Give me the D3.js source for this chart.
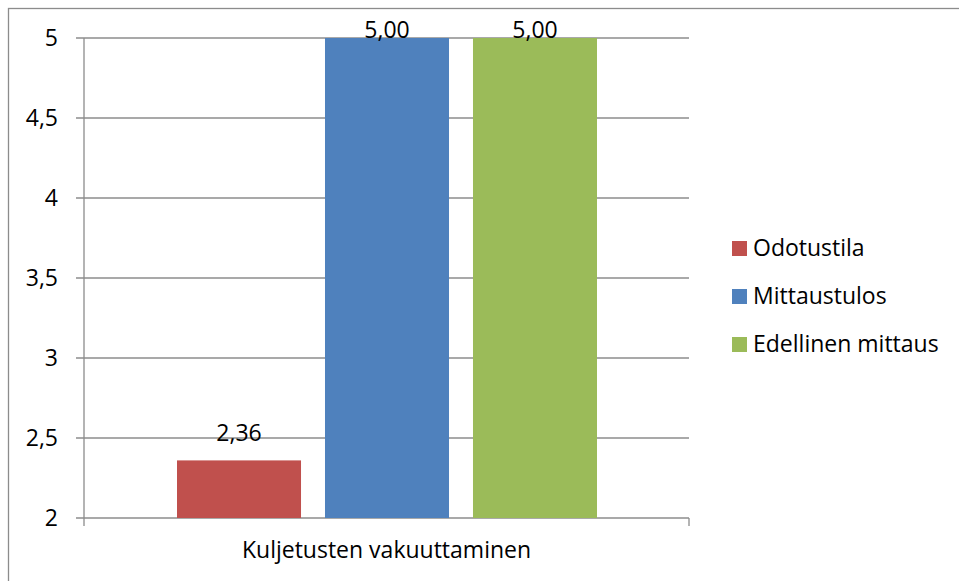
<!DOCTYPE html>
<html>
<head>
<meta charset="utf-8">
<script src="https://cdn.jsdelivr.net/npm/d3@7"></script>
<style>
  body { margin: 0; background: #fff; }
  svg text { font-family: "Open Sans", "Liberation Sans", sans-serif; fill: #000; }
</style>
</head>
<body>
<div class="chart"></div>
<script>
var categories = ["Kuljetusten vakuuttaminen"];
var seriesNames = ["Odotustila", "Mittaustulos", "Edellinen mittaus"];
var seriesValues = [2.36, 5.00, 5.00];
var seriesColors = ["#c0504d", "#4f81bd", "#9bbb59"];
var yTicks = [2, 2.5, 3, 3.5, 4, 4.5, 5];

var W = 959, H = 581;
var margin = {top: 38, left: 84, right: 270, bottom: 63};
var width = W - margin.left - margin.right,
    height = H - margin.top - margin.bottom;
var fontFam = "'Open Sans', 'Liberation Sans', sans-serif";
var fontSize = "23px";

var svg = d3.select(".chart").append("svg")
    .attr("width", W)
    .attr("height", H);

// cadre exterieur
svg.append("rect")
    .attr("x", 8.5).attr("y", 8.5)
    .attr("width", W + 10).attr("height", H + 10)
    .attr("fill", "none")
    .attr("stroke", "#8c8c8c")
    .attr("stroke-width", 1.3);

var g = svg.append("g")
    .attr("transform", "translate(" + margin.left + "," + margin.top + ")");

var yScale = d3.scaleLinear().domain([2, 5]).range([height, 0]);
var x0 = d3.scaleBand().domain(categories).range([0, width]).paddingInner(0).paddingOuter(0);
var x1 = d3.scaleBand().domain(seriesNames)
    .range([93, x0.bandwidth() - 92]).paddingInner(0.162).paddingOuter(0);

// grille
g.append("g").selectAll("line")
    .data(yTicks)
    .enter().append("line")
    .attr("x1", -8).attr("x2", width)
    .attr("y1", function (d) { return yScale(d); })
    .attr("y2", function (d) { return yScale(d); })
    .attr("stroke", "#8c8c8c")
    .attr("stroke-width", 1.3);

// axe Y
var yAxis = d3.axisLeft(yScale)
    .tickValues(yTicks)
    .tickSize(0)
    .tickPadding(26)
    .tickFormat(function (d) { return String(d).replace(".", ","); });

var ya = g.append("g").call(yAxis);
ya.select(".domain").remove();
ya.selectAll("text").style("font-size", fontSize)
    .style("font-family", fontFam);

g.append("line")
    .attr("x1", 0).attr("x2", 0)
    .attr("y1", 0).attr("y2", height + 8)
    .attr("stroke", "#8c8c8c").attr("stroke-width", 1.3);

// axe X
var xAxis = d3.axisBottom(x0).tickSize(0).tickPadding(24);
var xa = g.append("g")
    .attr("transform", "translate(0," + height + ")")
    .call(xAxis);
xa.select(".domain").remove();
xa.selectAll("text").style("font-size", fontSize)
    .style("font-family", fontFam);

g.append("line")
    .attr("x1", width).attr("x2", width)
    .attr("y1", height).attr("y2", height + 8)
    .attr("stroke", "#8c8c8c").attr("stroke-width", 1.3);

// barres
var data = seriesNames.map(function (n, i) {
    return {name: n, value: seriesValues[i], color: seriesColors[i], cat: categories[0]};
});

var bars = g.append("g").selectAll("g")
    .data(data)
    .enter().append("g")
    .attr("transform", function (d) { return "translate(" + x0(d.cat) + ",0)"; });

bars.append("rect")
    .attr("x", function (d) { return x1(d.name); })
    .attr("width", x1.bandwidth())
    .attr("y", function (d) { return yScale(d.value); })
    .attr("height", function (d) { return height - yScale(d.value); })
    .attr("fill", function (d) { return d.color; });

// etiquettes (bloquees au haut de la zone)
bars.append("text")
    .attr("x", function (d) { return x1(d.name) + x1.bandwidth() / 2; })
    .attr("y", function (d) { return Math.max(yScale(d.value) - 19, 0); })
    .attr("text-anchor", "middle")
    .style("font-size", fontSize)
    .text(function (d) { return d.value.toFixed(2).replace(".", ","); });

// legende
var legend = svg.append("g")
    .attr("transform", "translate(732,241)");

var item = legend.selectAll("g")
    .data(data)
    .enter().append("g")
    .attr("transform", function (d, i) { return "translate(0," + (i * 48) + ")"; });

item.append("rect")
    .attr("width", 15).attr("height", 15)
    .attr("fill", function (d) { return d.color; });

item.append("text")
    .attr("x", 21).attr("y", 15)
    .style("font-size", fontSize)
    .text(function (d) { return d.name; });
</script>
</body>
</html>
